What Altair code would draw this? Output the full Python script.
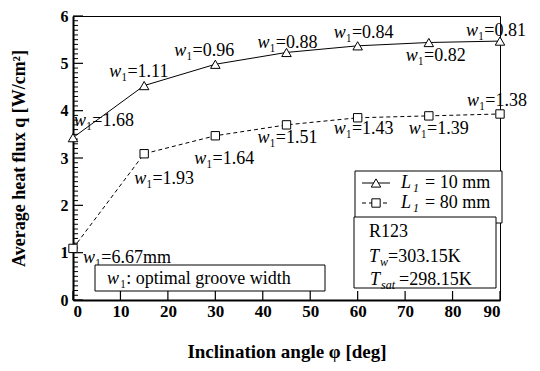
import altair as alt
import pandas as pd

# ---------------- data ----------------
angles = [0, 15, 30, 45, 60, 75, 90]
q_L10 = [3.43, 4.53, 4.98, 5.23, 5.37, 5.44, 5.47]
q_L80 = [1.09, 3.09, 3.47, 3.70, 3.85, 3.89, 3.93]
w_L10 = ["1.68", "1.11", "0.96", "0.88", "0.84", "0.82", "0.81"]
w_L80 = ["6.67mm", "1.93", "1.64", "1.51", "1.43", "1.39", "1.38"]
x_ticks = [0, 10, 20, 30, 40, 50, 60, 70, 80, 90]
y_ticks = [0, 1, 2, 3, 4, 5, 6]
y_minor = [i / 10 for i in range(0, 61) if i % 10 != 0]

# ---------------- style / layout ----------------
W, H = 427, 284
FONT = "Liberation Serif"
LBL = 18
XMAX, YMAX = 90, 6
# label anchor offsets (pixels) relative to each point
dx_L10 = [13, -23, -29, -17, -12, -11, -22]
dy_L10 = [-12, -9, -8, -4, -8, 18, -5]
dx_L80 = [22, 2, -9, -17, -12, -8, -21]
dy_L80 = [15, 30, 28, 18, 16, 18, -8]

xs = alt.Scale(domain=[0, XMAX], nice=False, zero=False)
ys = alt.Scale(domain=[0, YMAX], nice=False, zero=False)

df10 = pd.DataFrame({"angle": angles, "q": q_L10, "w": w_L10, "dx": dx_L10, "dy": dy_L10})
df80 = pd.DataFrame({"angle": angles, "q": q_L80, "w": w_L80, "dx": dx_L80, "dy": dy_L80})
for d in (df10, df80):
    d["lx"] = d["angle"] + d["dx"] * XMAX / W
    d["ly"] = d["q"] - d["dy"] * YMAX / H
    d["rest"] = "\u2081=" + d["w"]

one = pd.DataFrame({"a": [0]})

xaxis = alt.Axis(values=x_ticks, format="d", title="Inclination angle \u03c6 [deg]",
                 tickSize=0, labelPadding=3, titlePadding=23, domainWidth=2,
                 labelFontSize=17, titleFontSize=19)
yaxis = alt.Axis(values=y_ticks, format="d", title="Average heat flux q [W/cm\u00b2]",
                 tickSize=0, labelPadding=5, titlePadding=32, domainWidth=2,
                 labelFontSize=16, titleFontSize=18)


def X(f):
    return alt.X(f, scale=xs, axis=xaxis)


def Y(f):
    return alt.Y(f, scale=ys, axis=yaxis)


layers = []
layers.append(alt.Chart(df10).mark_line(color="black", strokeWidth=1).encode(x=X("angle:Q"), y=Y("q:Q")))
layers.append(alt.Chart(df80).mark_line(color="black", strokeWidth=1, strokeDash=[4, 3]).encode(
    x=X("angle:Q"), y=Y("q:Q")))

# inward ticks
layers.append(alt.Chart(pd.DataFrame({"angle": x_ticks})).mark_rule(color="black", strokeWidth=1.2).encode(
    x=X("angle:Q"), y=alt.value(H), y2=alt.value(H - 9)))
layers.append(alt.Chart(pd.DataFrame({"q": y_ticks})).mark_rule(color="black", strokeWidth=1.2).encode(
    y=Y("q:Q"), x=alt.value(0), x2=alt.value(10)))
layers.append(alt.Chart(pd.DataFrame({"q": y_minor})).mark_rule(color="black", strokeWidth=1).encode(
    y=Y("q:Q"), x=alt.value(0), x2=alt.value(5)))

# markers
layers.append(alt.Chart(df10).mark_point(shape="triangle-up", size=90, filled=True, fill="white",
                                         stroke="black", strokeWidth=1, opacity=1).encode(
    x=X("angle:Q"), y=Y("q:Q")))
layers.append(alt.Chart(df80).mark_point(shape="square", size=70, filled=True, fill="white",
                                         stroke="black", strokeWidth=1, opacity=1).encode(
    x=X("angle:Q"), y=Y("q:Q")))

# point labels: italic w + subscript/value
for d in (df10, df80):
    dd = d[["lx", "ly", "rest"]].rename(columns={"lx": "angle", "ly": "q"})
    layers.append(alt.Chart(dd).mark_text(font=FONT, fontSize=LBL, fontStyle="italic", align="right",
                                          baseline="alphabetic", color="black", text="w").encode(
        x=X("angle:Q"), y=Y("q:Q")))
    layers.append(alt.Chart(dd).mark_text(font=FONT, fontSize=LBL, align="left",
                                          baseline="alphabetic", color="black").encode(
        x=X("angle:Q"), y=Y("q:Q"), text="rest:N"))


def box(x1, x2, y1, y2):
    return alt.Chart(one).mark_rect(fill="white", stroke="black", strokeWidth=1).encode(
        x=alt.value(x1), x2=alt.value(x2), y=alt.value(y1), y2=alt.value(y2))


def txt(s, x, y, size=LBL, italic=False, align="left"):
    kw = dict(font=FONT, fontSize=size, align=align, baseline="alphabetic", color="black", text=s)
    if italic:
        kw["fontStyle"] = "italic"
    return alt.Chart(one).mark_text(**kw).encode(x=alt.value(x), y=alt.value(y))


# legend box
layers.append(box(282, 429, 155, 207))
layers.append(alt.Chart(one).mark_rule(color="black", strokeWidth=1).encode(
    x=alt.value(289), x2=alt.value(317), y=alt.value(167)))
layers.append(alt.Chart(one).mark_rule(color="black", strokeWidth=1, strokeDash=[4, 3]).encode(
    x=alt.value(289), x2=alt.value(317), y=alt.value(187)))
layers.append(alt.Chart(one).mark_point(shape="triangle-up", size=90, filled=True, fill="white",
                                        stroke="black", strokeWidth=1, opacity=1).encode(
    x=alt.value(303), y=alt.value(167)))
layers.append(alt.Chart(one).mark_point(shape="square", size=70, filled=True, fill="white",
                                        stroke="black", strokeWidth=1, opacity=1).encode(
    x=alt.value(303), y=alt.value(187)))
for yb, val in ((172, "= 10 mm"), (192, "= 80 mm")):
    layers.append(txt("L", 328, yb, italic=True))
    layers.append(txt("1", 340, yb + 4, size=12, italic=True))
    layers.append(txt(val, 352, yb))

# fluid / temperature box
layers.append(box(281, 423, 201, 272))
layers.append(txt("R123", 296, 221))
layers.append(txt("T", 296, 246, italic=True))
layers.append(txt("w", 307, 250, size=12, italic=True))
layers.append(txt("=303.15K", 315, 246))
layers.append(txt("T", 297, 269, italic=True))
layers.append(txt("sat", 308, 273, size=12, italic=True))
layers.append(txt("=298.15K", 326, 269))

# groove-width note box
layers.append(box(22, 252, 249, 275))
layers.append(txt("w", 34, 268, italic=True))
layers.append(txt("\u2081: optimal groove width", 47, 268))

chart = alt.layer(*layers).properties(
    width=W, height=H, autosize="none",
    padding={"left": 65, "top": 8, "right": 32, "bottom": 63},
).configure_axis(
    labelFont=FONT, titleFont=FONT, labelFontWeight="bold", titleFontWeight="bold",
    labelColor="black", titleColor="black", domainColor="black", grid=False,
).configure_view(stroke="black", strokeWidth=1)

chart.save("out.html", embed_options={"renderer": "svg", "actions": False})
